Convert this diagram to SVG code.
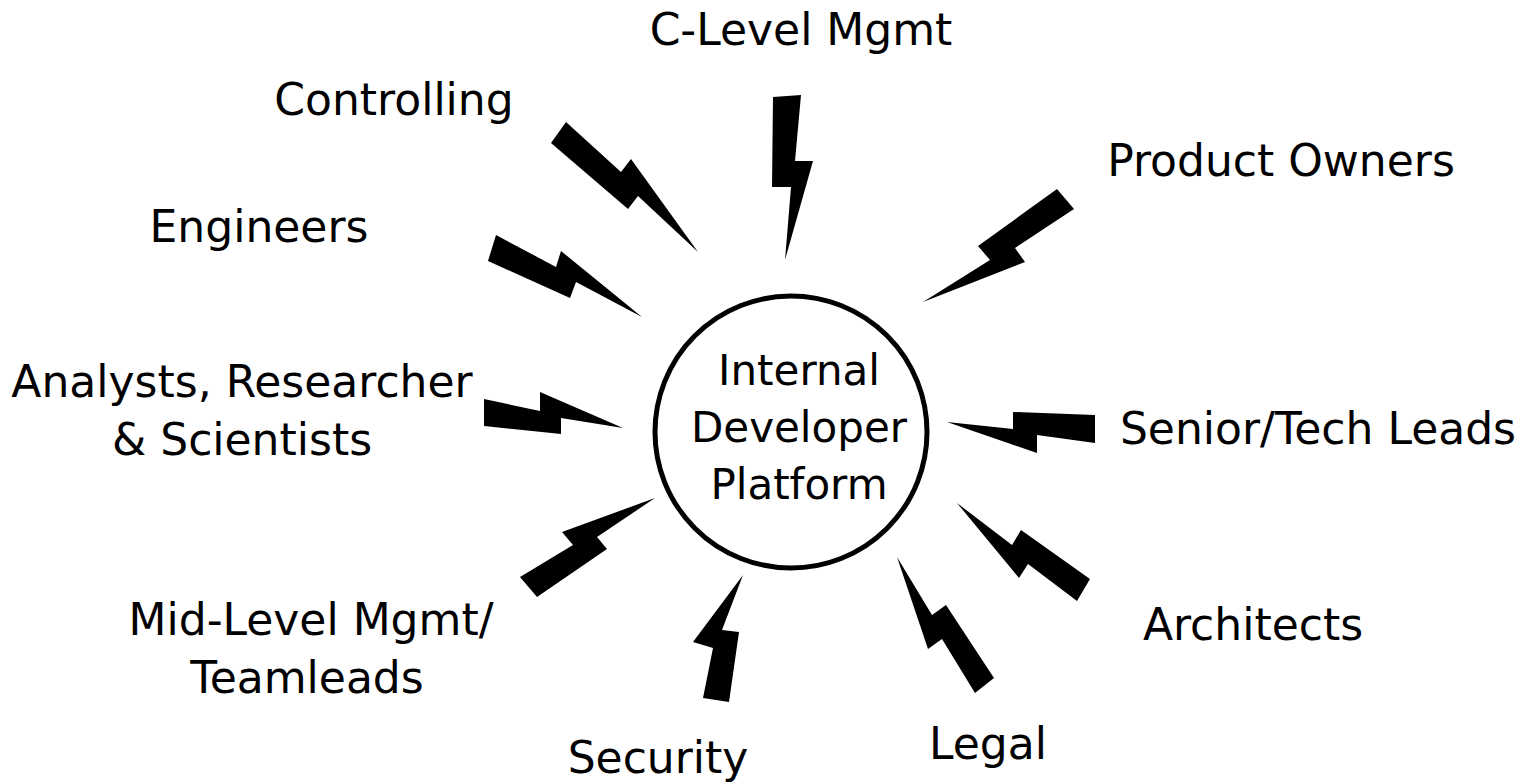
<svg xmlns="http://www.w3.org/2000/svg" width="1527" height="782" viewBox="0 0 1527 782">
<style>
text{font-family:"DejaVu Sans","Noto Sans",sans-serif;font-size:44px;fill:#000;text-anchor:middle}
.inner{font-size:42px}
.bolt{fill:#000;stroke:none}
</style>
<rect width="1527" height="782" fill="#fff"/>
<g id="connectors">
<polygon class="bolt" points="566,122 621,172 631,159 698,252 638,196 628,209 551,143"/>
<polygon class="bolt" points="773,97 801,95 795,161 813,161 785,260 791,187 772,187"/>
<polygon class="bolt" points="1057,189 1074,209 1015,248 1025,262 923,302 990,260 978,246"/>
<polygon class="bolt" points="496,235 556,267 561,251 642,317 576,282 570,298 488,261"/>
<polygon class="bolt" points="484,399 540,411 540,392 623,428 561,418 561,434 484,426"/>
<polygon class="bolt" points="947,422 1013,429 1013,412 1095,415 1095,443 1037,435 1037,453"/>
<polygon class="bolt" points="655,498 597,537 607,549 537,597 520,577 573,545 562,532"/>
<polygon class="bolt" points="743,575 722,630 739,632 729,702 703,698 713,648 693,642"/>
<polygon class="bolt" points="897,557 932,615 946,605 994,678 975,693 942,639 928,649"/>
<polygon class="bolt" points="957,503 1012,545 1021,530 1090,579 1077,601 1028,564 1019,578"/>
</g>
<g id="platform">
<circle cx="791" cy="432" r="136" fill="#fff" stroke="#000" stroke-width="5"/>
<text class="inner" x="799" y="385">Internal</text>
<text class="inner" x="799" y="442">Developer</text>
<text class="inner" x="799" y="499">Platform</text>
</g>
<g id="c-level"><text x="801" y="45">C-Level Mgmt</text></g>
<g id="controlling"><text x="394" y="115">Controlling</text></g>
<g id="product-owners"><text x="1281" y="176">Product Owners</text></g>
<g id="engineers"><text x="259" y="242">Engineers</text></g>
<g id="analysts"><text x="242" y="397">Analysts, Researcher</text><text x="242" y="455">&amp; Scientists</text></g>
<g id="senior-leads"><text x="1318" y="444">Senior/Tech Leads</text></g>
<g id="architects"><text x="1253" y="640">Architects</text></g>
<g id="mid-level"><text x="311" y="635">Mid-Level Mgmt/</text><text x="307" y="693">Teamleads</text></g>
<g id="security"><text x="658" y="773">Security</text></g>
<g id="legal"><text x="988" y="759">Legal</text></g>
</svg>
